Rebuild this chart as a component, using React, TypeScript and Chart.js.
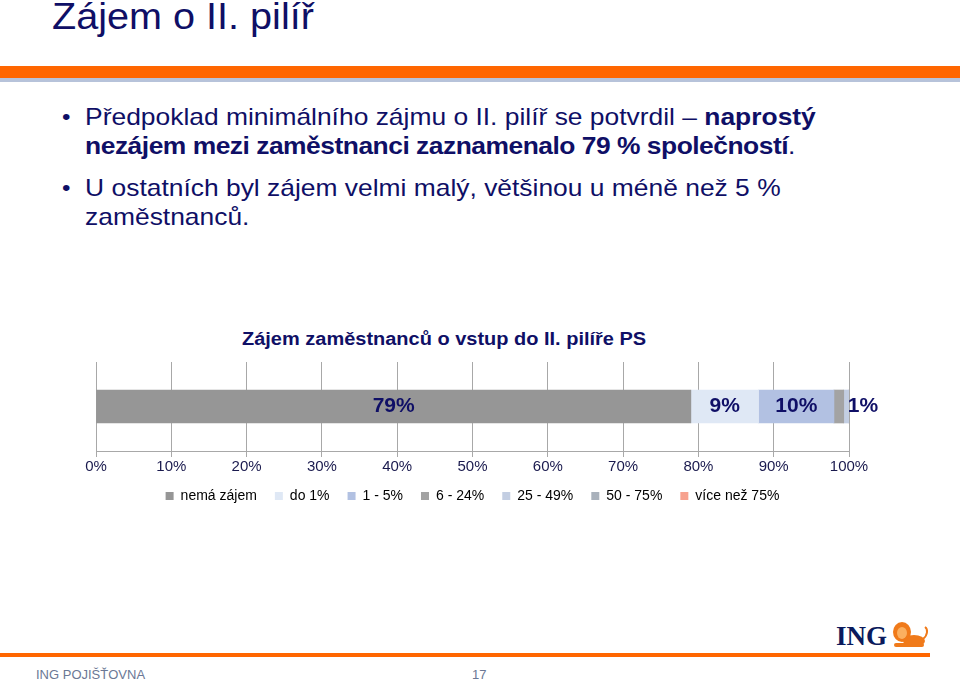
import React, { useEffect, useRef } from "react";
import { Chart, registerables } from "chart.js";

Chart.register(...registerables);

// ---- data ----
const categories = ["Zájem zaměstnanců"];
const seriesNames = ["nemá zájem", "do 1%", "1 - 5%", "6 - 24%", "25 - 49%", "50 - 75%", "více než 75%"];
const seriesValues = [79, 9, 10, 1.3, 0.7, 0, 0];
const valueLabels = ["79%", "9%", "10%", "1%", "", "", ""];
const tickValues = [0, 10, 20, 30, 40, 50, 60, 70, 80, 90, 100];

// ---- styles ----
const seriesColors = ["#969696", "#dfe8f5", "#b2c1e2", "#a3a3a3", "#c3cee2", "#a9b1bb", "#f7a28f"];
const NAVY = "#0f0f66";
const FONT = "'Liberation Sans', Arial, sans-serif";

const valueLabelPlugin = {
  id: "valueLabels",
  afterDatasetsDraw(chart: any) {
    const ctx = chart.ctx;
    ctx.save();
    ctx.font = `bold 21px ${FONT}`;
    ctx.fillStyle = NAVY;
    ctx.textBaseline = "middle";
    chart.data.datasets.forEach((ds: any, i: number) => {
      const txt = valueLabels[i];
      if (!txt) return;
      const meta = chart.getDatasetMeta(i);
      const el: any = meta.data[0];
      if (!el) return;
      const w = Math.abs(el.x - el.base);
      const tw = ctx.measureText(txt).width;
      if (tw + 4 <= w) {
        ctx.textAlign = "center";
        ctx.fillText(txt, (el.x + el.base) / 2, el.y);
      } else {
        ctx.textAlign = "left";
        ctx.fillText(txt, el.x + 4, el.y);
      }
    });
    ctx.restore();
  },
};

// pull the legend a little closer to the axis labels
const legendShiftPlugin = {
  id: "legendShift",
  afterLayout(chart: any) {
    const lg = chart.legend;
    if (lg) {
      lg.top -= 5;
      lg.bottom -= 5;
    }
  },
};

function BarChart() {
  const ref = useRef<HTMLCanvasElement | null>(null);
  useEffect(() => {
    if (!ref.current) return;
    const chart = new Chart(ref.current, {
      type: "bar",
      data: {
        labels: categories,
        datasets: seriesNames.map((name, i) => ({
          label: name,
          data: [seriesValues[i]],
          backgroundColor: seriesColors[i],
          borderWidth: 0,
          barThickness: 33,
        })),
      },
      options: {
        indexAxis: "y",
        animation: false,
        responsive: false,
        maintainAspectRatio: false,
        layout: { padding: { left: 36, right: 51, top: 7, bottom: 0 } },
        scales: {
          x: {
            stacked: true,
            min: 0,
            max: 100,
            afterBuildTicks: (axis: any) => {
              axis.ticks = tickValues.map((v) => ({ value: v }));
            },
            ticks: {
              callback: (v: any) => `${v}%`,
              color: "#1a1a4e",
              font: { family: FONT, size: 15, lineHeight: 1 },
              padding: 2,
              maxRotation: 0,
            },
            grid: { color: "#a8a8a8", lineWidth: 1, tickLength: 6, drawTicks: true },
            border: { color: "#a8a8a8", width: 1 },
          },
          y: { stacked: true, display: false },
        },
        plugins: {
          legend: {
            position: "bottom",
            labels: {
              boxWidth: 8,
              boxHeight: 8,
              padding: 18,
              color: "#000",
              font: { family: FONT, size: 14 },
            },
          },
          tooltip: { enabled: false },
          title: { display: false },
        },
      },
      plugins: [valueLabelPlugin, legendShiftPlugin],
    } as any);
    return () => chart.destroy();
  }, []);
  return <canvas ref={ref} width={840} height={163} style={{ position: "absolute", left: 60, top: 355, width: 840, height: 163 }} />;
}

function Lion() {
  return (
    <svg width="38" height="28" viewBox="0 0 38 28" style={{ position: "absolute", left: 892, top: 621 }}>
      <ellipse cx="10" cy="11" rx="9" ry="10" fill="#f07a1a" />
      <ellipse cx="10" cy="12" rx="5" ry="6" fill="#fbb060" />
      <ellipse cx="22" cy="20" rx="11" ry="6" fill="#f07a1a" />
      <path d="M31 18 C36 14 36 8 33 6" stroke="#f07a1a" strokeWidth="2" fill="none" />
      <rect x="2" y="22" width="30" height="4" rx="2" fill="#f07a1a" />
    </svg>
  );
}

export default function App() {
  const textStyle: React.CSSProperties = { fontFamily: FONT, color: NAVY };
  const boldStyle: React.CSSProperties = { letterSpacing: "-0.45px" };
  return (
    <div style={{ position: "absolute", left: 0, top: 0, width: 960, height: 682, background: "#fff", overflow: "hidden" }}>
      <div style={{ ...textStyle, position: "absolute", left: 52, top: -2, fontSize: 36, lineHeight: "38px", whiteSpace: "nowrap", transform: "scaleX(1.1)", transformOrigin: "left top" }}>
        Zájem o II. pilíř
      </div>
      <div style={{ position: "absolute", left: 0, top: 66, width: 960, height: 12, background: "#ff6600" }} />
      <div style={{ position: "absolute", left: 0, top: 78, width: 960, height: 4, background: "#b7c3da" }} />

      <div style={{ ...textStyle, position: "absolute", left: 62, top: 102, fontSize: 24, lineHeight: "29px", whiteSpace: "nowrap", transform: "scaleX(1.1)", transformOrigin: "left top" }}>
        <div style={{ position: "relative", paddingLeft: 21 }}>
          <span style={{ position: "absolute", left: 0, top: 0, fontSize: 22 }}>•</span>
          Předpoklad minimálního zájmu o II. pilíř se potvrdil – <b>naprostý</b>
          <br />
          <b style={boldStyle}>nezájem mezi zaměstnanci zaznamenalo 79 % společností</b>.
        </div>
        <div style={{ position: "relative", paddingLeft: 21, marginTop: 13 }}>
          <span style={{ position: "absolute", left: 0, top: 0, fontSize: 22 }}>•</span>
          U ostatních byl zájem velmi malý, většinou u méně než 5 %
          <br />
          zaměstnanců.
        </div>
      </div>

      <div style={{ ...textStyle, position: "absolute", left: 242, top: 329, fontSize: 18, fontWeight: "bold", lineHeight: "20px", whiteSpace: "nowrap", transform: "scaleX(1.11)", transformOrigin: "left top" }}>
        Zájem zaměstnanců o vstup do II. pilíře PS
      </div>

      <BarChart />

      <div style={{ position: "absolute", left: 836, top: 621, fontFamily: "'Liberation Serif', 'DejaVu Serif', serif", fontWeight: "bold", fontSize: 27, lineHeight: "30px", color: "#0a1a5c" }}>
        ING
      </div>
      <Lion />
      <div style={{ position: "absolute", left: 0, top: 653, width: 930, height: 4, background: "#ff6600" }} />
      <div style={{ position: "absolute", left: 36, top: 667, fontFamily: FONT, fontSize: 13, lineHeight: "15px", color: "#6b7895" }}>
        ING POJIŠŤOVNA
      </div>
      <div style={{ position: "absolute", left: 472, top: 667, fontFamily: FONT, fontSize: 13, lineHeight: "15px", color: "#6b7895" }}>
        17
      </div>
    </div>
  );
}
